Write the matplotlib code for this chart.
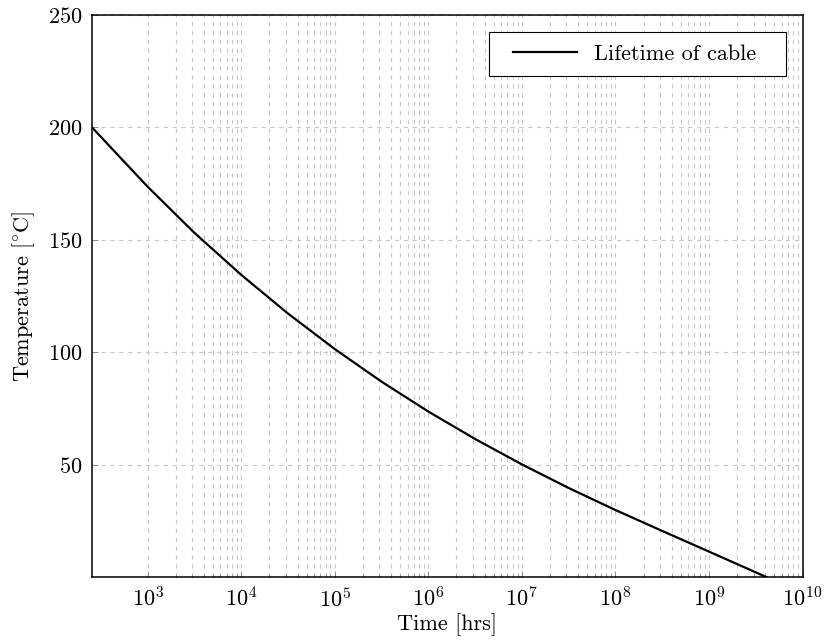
import matplotlib
matplotlib.use("Agg")
import matplotlib.pyplot as plt
from matplotlib.patches import Rectangle
from matplotlib.ticker import FixedLocator, NullFormatter

plt.rcParams["font.family"] = "serif"
plt.rcParams["font.serif"] = ["cmr10", "DejaVu Serif"]
plt.rcParams["mathtext.fontset"] = "cm"
plt.rcParams["axes.formatter.use_mathtext"] = True

# Cable lifetime (hours) against conductor temperature (deg C)
time_hrs = [254, 1e3, 3.16e3, 1e4, 3.16e4, 1e5, 3.16e5, 1e6, 3.16e6,
            1e7, 3.16e7, 1e8, 3.16e8, 1e9, 4.1e9]
temperature = [200, 173.6, 153.1, 134.4, 117.2, 101.4, 86.9, 73.6, 61.4,
               50.1, 39.6, 29.8, 20.5, 11.3, 0]

x_ticks = [1e3, 1e4, 1e5, 1e6, 1e7, 1e8, 1e9, 1e10]
y_ticks = [50, 100, 150, 200, 250]
x_limits = (254, 1e10)
y_limits = (0, 250)

W, H = 824, 642
fig = plt.figure(figsize=(W / 100, H / 100), dpi=100)
ax = fig.add_axes([92 / W, 1 - 577 / H, (802.5 - 92) / W, (577 - 15) / H])

ax.plot(time_hrs, temperature, color="black", linewidth=1.6, label="Lifetime of cable",
        zorder=3)

ax.set_xscale("log")
ax.set_xlim(*x_limits)
ax.set_ylim(*y_limits)
ax.xaxis.set_major_locator(FixedLocator(x_ticks))
minor = [m * d for d in x_ticks[:-1] for m in range(2, 10)]
ax.xaxis.set_minor_locator(FixedLocator(minor))
ax.xaxis.set_minor_formatter(NullFormatter())
ax.yaxis.set_major_locator(FixedLocator(y_ticks))

grid_style = dict(color="#c8c8c8", linestyle=(0, (4, 4)), linewidth=0.8)
ax.grid(True, which="major", axis="both", **grid_style)
ax.grid(True, which="minor", axis="x", **grid_style)
ax.set_axisbelow(True)

ax.tick_params(which="both", direction="in", color="#808080", labelsize=16,
               top=False, right=False)
ax.tick_params(which="major", length=4, width=0.6, pad=7)
ax.tick_params(which="minor", length=2.5, width=0.5)

for s in ax.spines.values():
    s.set_linewidth(1.1)
    s.set_color("black")

ax.set_xlabel("Time [hrs]", fontsize=16, labelpad=2)
ax.set_ylabel(r"Temperature [$^{\circ}$C]", fontsize=16, labelpad=8)

# legend box with wider side padding than top/bottom
box = Rectangle((489 / W, 1 - 76 / H), (786 - 489) / W, (76 - 32) / H,
                transform=fig.transFigure, facecolor="white", edgecolor="black",
                linewidth=0.8, zorder=4)
ax.add_artist(box)
leg = ax.legend(loc="center left", fontsize=16, frameon=False, borderpad=0,
                handlelength=2.9, handletextpad=0.75, borderaxespad=0,
                bbox_to_anchor=(513 / W, 1 - 54 / H), bbox_transform=fig.transFigure)
leg.set_zorder(5)

fig.savefig("out.png", dpi=100)
